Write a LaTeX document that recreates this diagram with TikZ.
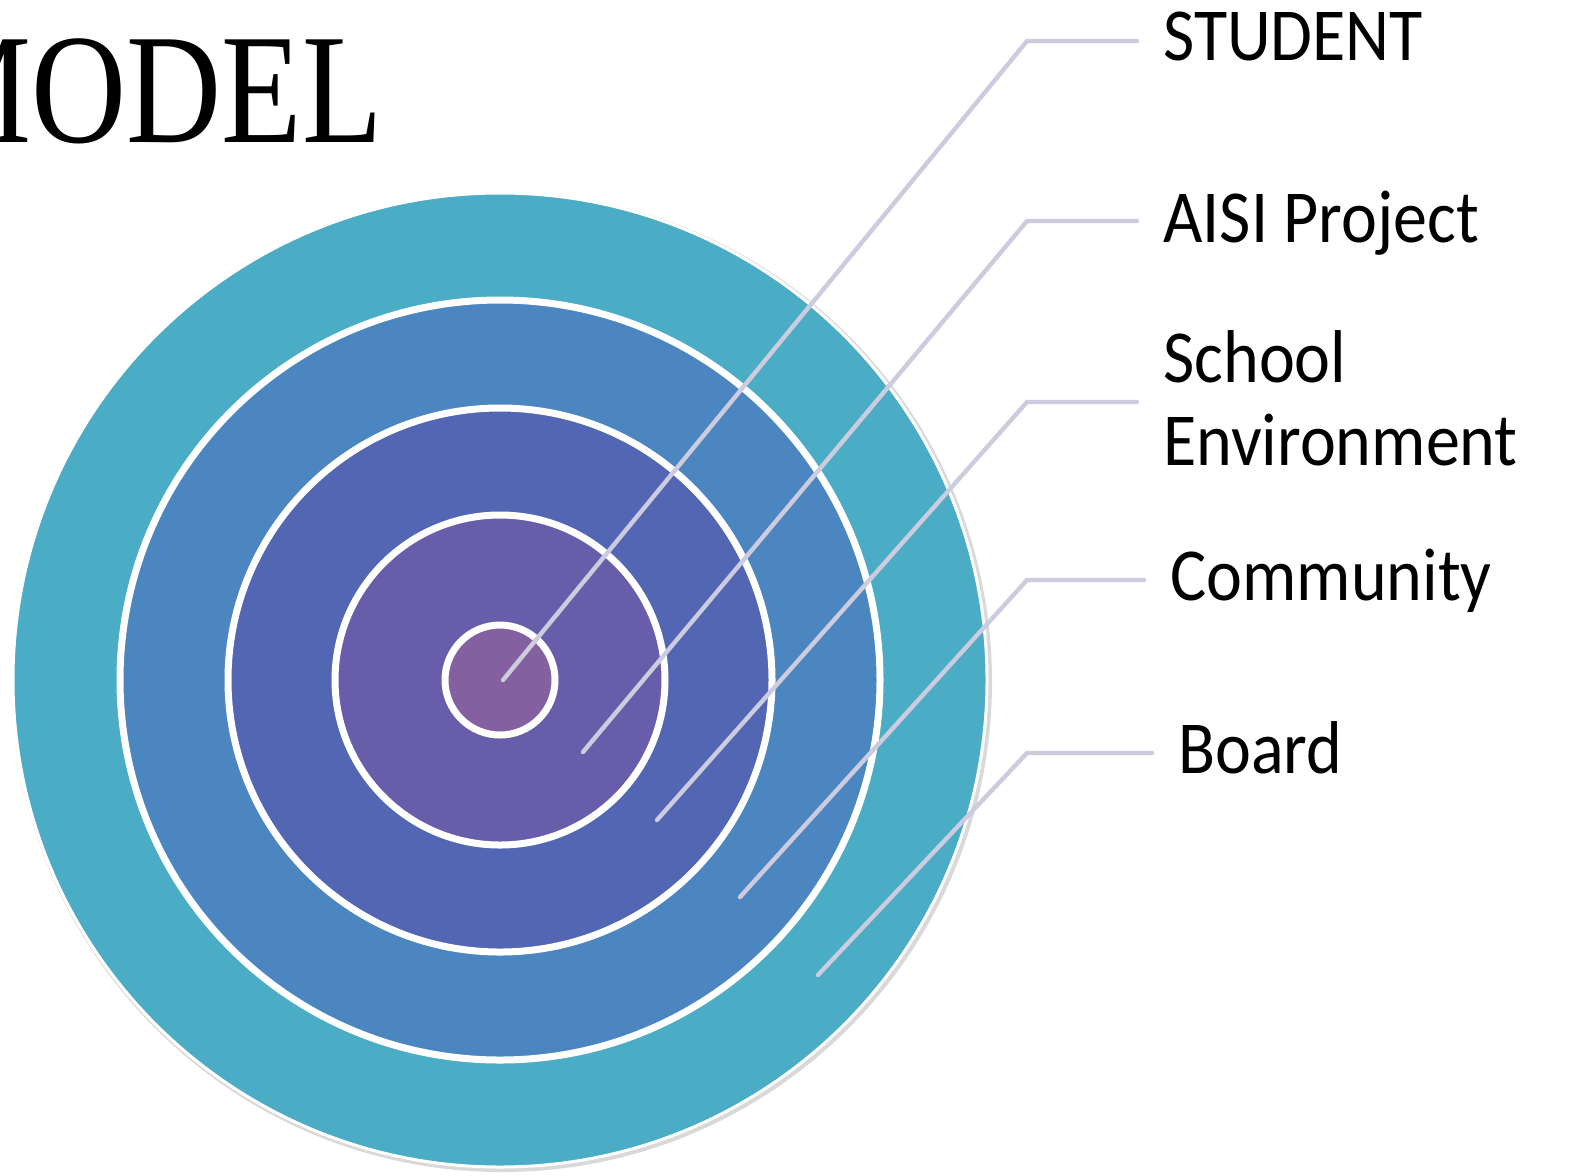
\documentclass[tikz,border=0pt]{standalone}
\usepackage{fontspec}
\newfontfamily\labelfont{Carlito}
\newfontfamily\titlefont{Liberation Serif}
\usetikzlibrary{positioning}

\definecolor{boardcol}{RGB}{75,172,198}
\definecolor{commcol}{RGB}{76,134,192}
\definecolor{schoolcol}{RGB}{82,102,180}
\definecolor{aisicol}{RGB}{104,93,170}
\definecolor{studcol}{RGB}{132,96,160}
\definecolor{linkcol}{RGB}{204,204,222}

\begin{document}
\begin{tikzpicture}[x=0.5pt, y=-0.5pt]
        \tikzstyle{ring}=[circle,draw=white,line width=3.5pt,inner sep=0pt]
        \tikzstyle{tag}=[font=\labelfont\fontsize{34pt}{37.7pt}\selectfont, anchor=base west, inner sep=0pt, align=left, yscale=1.1]
        \tikzstyle{link}=[draw=linkcol, line width=2.2pt, line cap=round, shorten >=13pt]

        \useasboundingbox (0,0) rectangle (1574,1175);

        % title, cut at the left edge
        \node[font=\titlefont\fontsize{70pt}{74pt}\selectfont, anchor=base east, inner sep=0pt, xscale=0.94, yscale=1.12] (title) at (383,142) {MODEL};

        % target rings
        \node[circle, fill=black!15, minimum size=490pt, inner sep=0pt] (shadow) at (502,682) {};
        \node[ring, fill=boardcol, minimum size=487pt, line width=1.5pt] (boardring) at (500,680) {};
        \node[ring, fill=commcol, minimum size=380pt] (commring) at (500,680) {};
        \node[ring, fill=schoolcol, minimum size=272pt] (schoolring) at (500,680) {};
        \node[ring, fill=aisicol, minimum size=165pt] (aisiring) at (500,680) {};
        \node[ring, fill=studcol, minimum size=55pt] (studring) at (500,680) {};

        % labels
        \node[tag] (student) at (1163,60) {STUDENT};
        \node[tag] (aisi) at (1163,242) {AISI Project};
        \node[tag] (school) at (1163,465) {School\\Environment};
        \node[tag] (community) at (1170,600) {Community};
        \node[tag] (board) at (1178,773) {Board};

        % connector ends and elbows
        \coordinate (pstudent) at (503,680);
        \coordinate (kstudent) at (1027,41);
        \coordinate (paisi) at (583,752);
        \coordinate (kaisi) at (1027,221);
        \coordinate (pschool) at (657,820);
        \coordinate (kschool) at (1027,402);
        \coordinate (pcommunity) at (740,897);
        \coordinate (kcommunity) at (1027,580);
        \coordinate (pboard) at (818,975);
        \coordinate (kboard) at (1027,753);

        \draw[link] (pstudent) -- (kstudent) -- (kstudent -| student.west);
        \draw[link] (paisi) -- (kaisi) -- (kaisi -| aisi.west);
        \draw[link] (pschool) -- (kschool) -- (kschool -| school.west);
        \draw[link] (pcommunity) -- (kcommunity) -- (kcommunity -| community.west);
        \draw[link] (pboard) -- (kboard) -- (kboard -| board.west);
\end{tikzpicture}
\end{document}
